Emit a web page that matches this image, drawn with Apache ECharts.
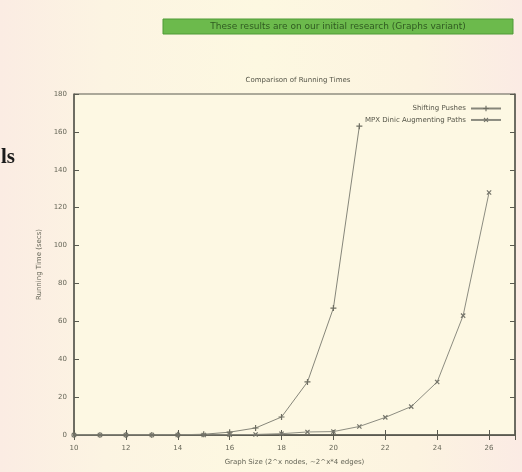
<!DOCTYPE html>
<html><head><meta charset="utf-8">
<script src="https://cdn.jsdelivr.net/npm/echarts@6/dist/echarts.min.js"></script>
<style>
html,body{margin:0;padding:0;}
body{width:522px;height:472px;background:linear-gradient(90deg,#fbece3 0%,#fcf4e2 20%,#fdf8e1 50%,#fcf3e0 80%,#fbebe4 100%);}
#c{width:522px;height:472px;}
</style></head><body>
<div id="c"></div>
<script>
const chartTitle = 'Comparison of Running Times';
const xName = 'Graph Size (2^x nodes, ~2^x*4 edges)';
const yName = 'Running Time (secs)';
const seriesNames = ['Shifting Pushes', 'MPX Dinic Augmenting Paths'];
const xs1 = [10, 11, 12, 13, 14, 15, 16, 17, 18, 19, 20, 21];
const ys1 = [0, 0, 0, 0, 0.1, 0.4, 1.5, 3.7, 9.5, 28, 67, 163];
const xs2 = [10, 11, 12, 13, 14, 15, 16, 17, 18, 19, 20, 21, 22, 23, 24, 25, 26];
const ys2 = [0, 0, 0, 0, 0, 0, 0.1, 0.3, 0.7, 1.6, 1.8, 4.5, 9.3, 15, 28, 63, 128];
const xTicks = [10, 12, 14, 16, 18, 20, 22, 24, 26];
const bannerText = 'These results are on our initial research (Graphs variant)';

const plusPath = 'path://M4,0H6V4H10V6H6V10H4V6H0V4H4Z';
const axisCol = '#5a5a50';
const txtCol = '#666658';
const chart = echarts.init(document.getElementById('c'));
const pairs = (xs, ys) => xs.map((x, i) => [x, ys[i]]);
chart.setOption({
  animation: false,
  backgroundColor: 'transparent',
  title: {text: chartTitle, left: 293, top: 72, textAlign: 'center',
    textStyle: {fontSize: 7, fontWeight: 'normal', color: '#555548', fontFamily: 'DejaVu Sans'}},
  grid: {left: 74, top: 94, width: 441, height: 341, show: true, backgroundColor: '#fdf8e3', borderColor: axisCol, borderWidth: 1},
  legend: {orient: 'vertical', right: 15, top: 100, align: 'right', itemGap: 4, itemWidth: 30, itemHeight: 7,
    textStyle: {fontSize: 7, color: '#555548', fontFamily: 'DejaVu Sans'}, data: seriesNames},
  xAxis: [{type: 'value', min: 10, max: 27, interval: 2, position: 'bottom',
    name: xName, nameLocation: 'middle', nameGap: 24,
    nameTextStyle: {fontSize: 7, color: txtCol, fontFamily: 'DejaVu Sans'},
    axisLine: {lineStyle: {color: axisCol, width: 1.5}},
    axisTick: {inside: true, length: 5, lineStyle: {color: axisCol}},
    axisLabel: {fontSize: 7, color: txtCol, margin: 10, fontFamily: 'DejaVu Sans',
      formatter: v => xTicks.includes(v) ? String(v) : ''},
    splitLine: {show: false}},
    {type: 'value', min: 10, max: 27, interval: 2, position: 'top',
    axisLine: {lineStyle: {color: axisCol}}, axisTick: {inside: true, length: 5, lineStyle: {color: axisCol}},
    axisLabel: {show: false}, splitLine: {show: false}}],
  yAxis: [{type: 'value', min: 0, max: 180, interval: 20, position: 'left',
    name: yName, nameLocation: 'middle', nameGap: 26, nameRotate: 90,
    nameTextStyle: {fontSize: 7, color: txtCol, fontFamily: 'DejaVu Sans'},
    axisLine: {show: true, lineStyle: {color: axisCol, width: 1.5}},
    axisTick: {show: true, inside: true, length: 5, lineStyle: {color: axisCol}},
    axisLabel: {fontSize: 7, color: txtCol, margin: 7, fontFamily: 'DejaVu Sans'},
    splitLine: {show: false}},
    {type: 'value', min: 0, max: 180, interval: 20, position: 'right',
    axisLine: {show: true, lineStyle: {color: axisCol, width: 1.5}},
    axisTick: {show: true, inside: true, length: 5, lineStyle: {color: axisCol}},
    axisLabel: {show: false}, splitLine: {show: false}}],
  series: [
    {name: seriesNames[0], type: 'line', data: pairs(xs1, ys1), symbol: plusPath, symbolSize: 6,
      lineStyle: {color: '#86867a', width: 1}, itemStyle: {color: '#6e6e62'}},
    {name: seriesNames[1], type: 'line', data: pairs(xs2, ys2), symbol: plusPath, symbolSize: 6, symbolRotate: 45,
      lineStyle: {color: '#8c8c80', width: 1}, itemStyle: {color: '#74746a'}}
  ],
  graphic: [
    {type: 'rect', shape: {x: 163, y: 19, width: 350, height: 15}, style: {fill: '#6cba4c', stroke: '#4f9a36', lineWidth: 1}},
    {type: 'text', x: 338, y: 26.5, style: {text: bannerText, fontSize: 9, fill: '#2f5a20', align: 'center', verticalAlign: 'middle', fontFamily: 'DejaVu Sans'}},
    {type: 'text', x: 1, y: 168, style: {text: 'ls', fontSize: 21, fontWeight: 'bold', fill: '#1a1a1a', verticalAlign: 'bottom', fontFamily: 'Liberation Serif'}}
  ]
});
</script>
</body></html>
